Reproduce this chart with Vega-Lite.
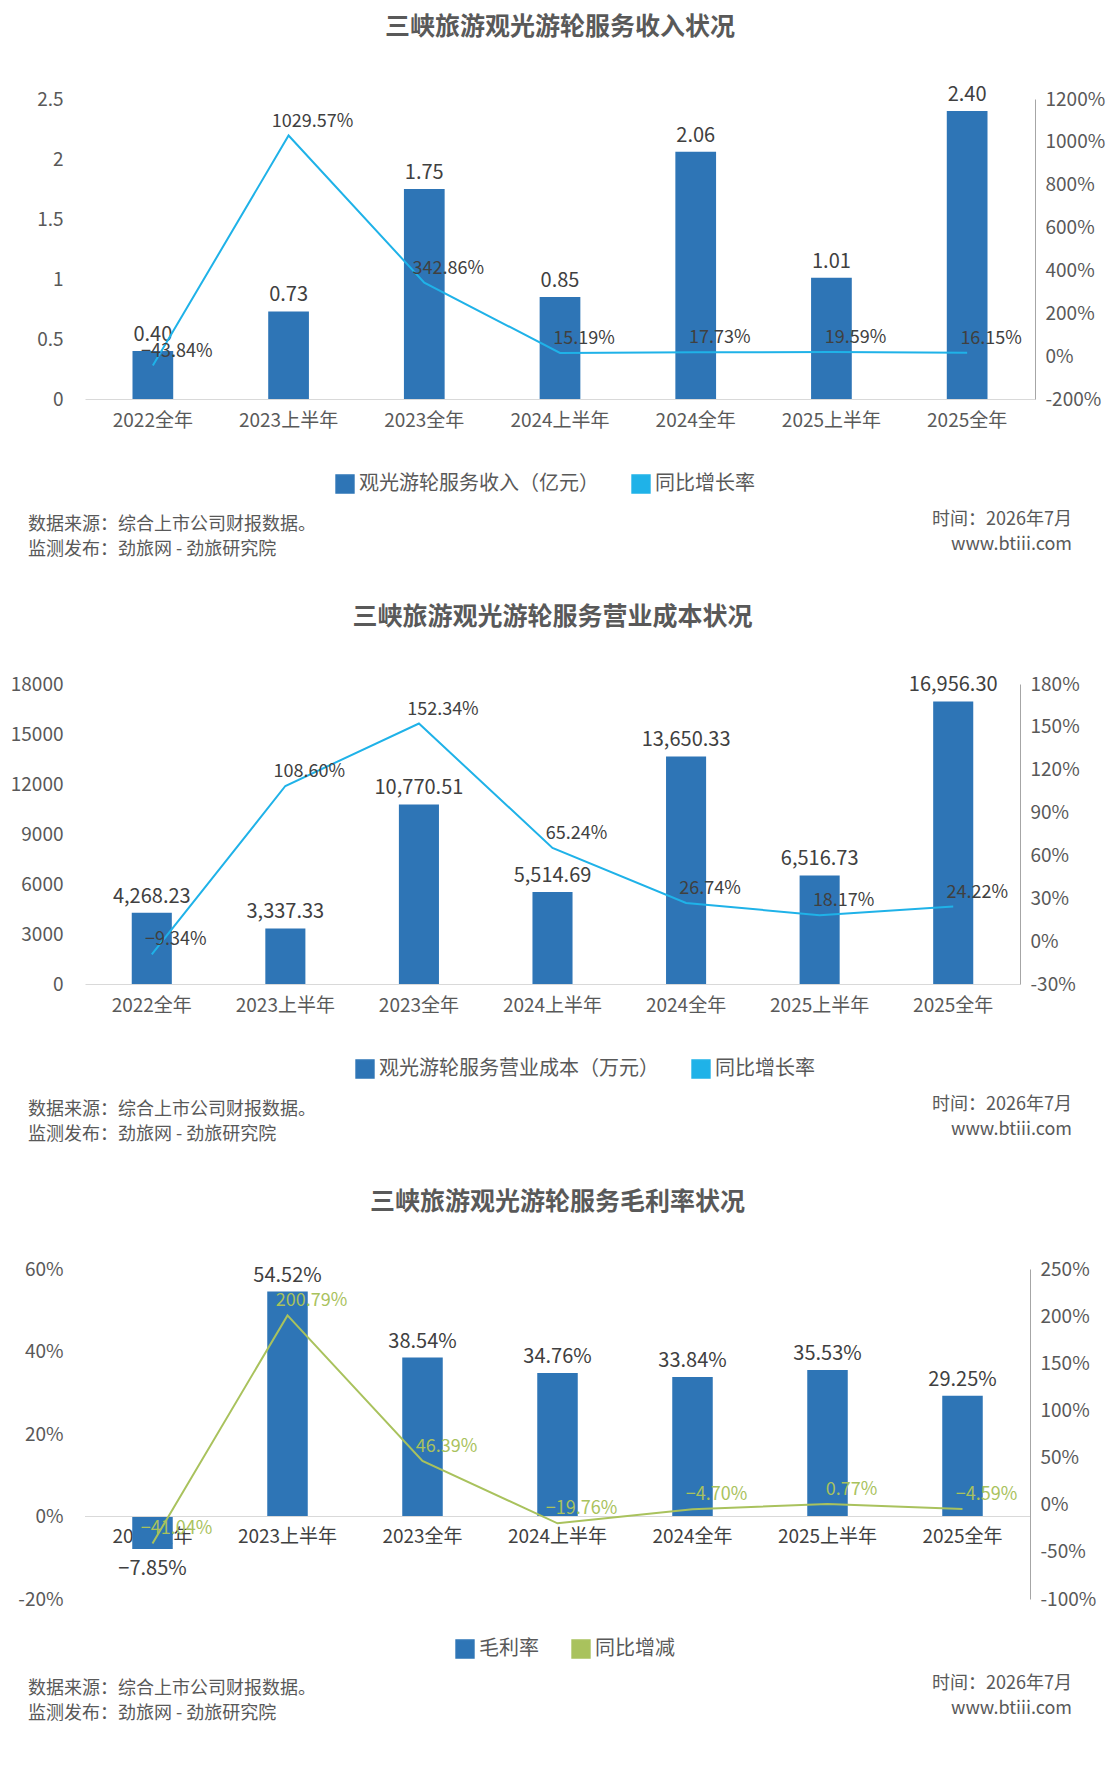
{
  "$schema": "https://vega.github.io/schema/vega-lite/v6.json",
  "background": "white",
  "padding": {"left": 10, "top": 15, "right": 10, "bottom": 5},
  "config": {
    "font": "Noto Sans CJK SC",
    "view": {"stroke": null},
    "axis": {"labelFont": "Noto Sans CJK SC", "labelColor": "#595959", "labelFontSize": 19, "ticks": false, "grid": false, "title": null},
    "legend": {"labelFont": "Noto Sans CJK SC", "labelFontSize": 20, "labelColor": "#595959", "orient": "none", "direction": "horizontal", "title": null, "symbolSize": 320, "columnPadding": 30, "labelLimit": 0},
    "title": {"font": "Noto Sans CJK SC", "fontSize": 25, "fontWeight": "bold", "color": "#595959", "offset": 45},
    "concat": {"spacing": 45}
  },
  "datasets": {
    "p1": [
      {"c": "2022全年", "v": 0.40, "g": -43.84},
      {"c": "2023上半年", "v": 0.73, "g": 1029.57},
      {"c": "2023全年", "v": 1.75, "g": 342.86},
      {"c": "2024上半年", "v": 0.85, "g": 15.19},
      {"c": "2024全年", "v": 2.06, "g": 17.73},
      {"c": "2025上半年", "v": 1.01, "g": 19.59},
      {"c": "2025全年", "v": 2.40, "g": 16.15}
    ],
    "p2": [
      {"c": "2022全年", "v": 4268.23, "g": -9.34},
      {"c": "2023上半年", "v": 3337.33, "g": 108.60},
      {"c": "2023全年", "v": 10770.51, "g": 152.34},
      {"c": "2024上半年", "v": 5514.69, "g": 65.24},
      {"c": "2024全年", "v": 13650.33, "g": 26.74},
      {"c": "2025上半年", "v": 6516.73, "g": 18.17},
      {"c": "2025全年", "v": 16956.30, "g": 24.22}
    ],
    "p3": [
      {"c": "2022全年", "v": -7.85, "g": -41.04},
      {"c": "2023上半年", "v": 54.52, "g": 200.79},
      {"c": "2023全年", "v": 38.54, "g": 46.39},
      {"c": "2024上半年", "v": 34.76, "g": -19.76},
      {"c": "2024全年", "v": 33.84, "g": -4.70},
      {"c": "2025上半年", "v": 35.53, "g": 0.77},
      {"c": "2025全年", "v": 29.25, "g": -4.59}
    ],
    "foot": [
      {"x": 0.0, "y": 0.3, "t": "数据来源：综合上市公司财报数据。", "s": "l"},
      {"x": 0.0, "y": 0.8, "t": "监测发布：劲旅网 - 劲旅研究院", "s": "l"},
      {"x": 1.0, "y": 0.2, "t": "时间：2026年7月", "s": "r"},
      {"x": 1.0, "y": 0.7, "t": "www.btiii.com", "s": "r"}
    ]
  },
  "resolve": {"scale": {"color": "independent"}},
  "vconcat": [
    {
      "spacing": 80,
      "vconcat": [
        {
          "title": "三峡旅游观光游轮服务收入状况",
          "width": 950, "height": 300,
          "data": {"name": "p1"},
          "transform": [{"calculate": "format(datum.g, '.2f') + '%'", "as": "gl"}],
          "encoding": {"x": {"field": "c", "type": "nominal", "sort": null, "axis": {"labelAngle": 0, "domainColor": "#d9d9d9", "labelPadding": 12}, "scale": {"paddingInner": 0.7, "paddingOuter": 0.35}}},
          "layer": [
            {
              "encoding": {"y": {"field": "v", "type": "quantitative", "scale": {"domain": [0, 2.5]}, "axis": {"values": [0, 0.5, 1, 1.5, 2, 2.5], "format": "~g", "domain": false, "labelPadding": 22}}},
              "layer": [
                {"mark": {"type": "bar", "color": "#2e75b6"}, "encoding": {"color": {"datum": "观光游轮服务收入（亿元）", "scale": {"domain": ["观光游轮服务收入（亿元）", "同比增长率"], "range": ["#2e75b6", "#1fb2e8"]}, "legend": {"legendX": 250, "legendY": 375}}}},
                {"mark": {"type": "text", "dy": -16, "fontSize": 20, "color": "#404040"}, "encoding": {"text": {"field": "v", "format": ".2f"}}}
              ]
            },
            {
              "encoding": {"y": {"field": "g", "type": "quantitative", "scale": {"domain": [-200, 1200]}, "axis": {"orient": "right", "values": [-200, 0, 200, 400, 600, 800, 1000, 1200], "labelExpr": "datum.value + '%'", "domainColor": "#a6a6a6", "labelPadding": 10}}},
              "layer": [
                {"mark": {"type": "line", "color": "#1fb2e8", "strokeWidth": 2}, "encoding": {"color": {"datum": "同比增长率", "scale": {"domain": ["观光游轮服务收入（亿元）", "同比增长率"], "range": ["#2e75b6", "#1fb2e8"]}}}},
                {"mark": {"type": "text", "dx": 24, "dy": -14, "fontSize": 18, "color": "#404040"}, "encoding": {"text": {"field": "gl"}}}
              ]
            }
          ],
          "resolve": {"scale": {"y": "independent"}}
        },
        {
          "width": 990, "height": 50,
          "data": {"name": "foot"},
          "encoding": {
            "x": {"field": "x", "type": "quantitative", "scale": {"domain": [0, 1], "range": [-57, 987]}, "axis": null},
            "y": {"field": "y", "type": "quantitative", "scale": {"domain": [0, 1], "reverse": true}, "axis": null},
            "text": {"field": "t"}
          },
          "layer": [
            {"transform": [{"filter": "datum.s == 'l'"}], "mark": {"type": "text", "align": "left", "fontSize": 18, "color": "#595959"}},
            {"transform": [{"filter": "datum.s == 'r'"}], "mark": {"type": "text", "align": "right", "fontSize": 18, "color": "#595959"}}
          ]
        }
      ]
    },
    {
      "spacing": 80,
      "vconcat": [
        {
          "title": "三峡旅游观光游轮服务营业成本状况",
          "width": 935, "height": 300,
          "data": {"name": "p2"},
          "transform": [{"calculate": "format(datum.g, '.2f') + '%'", "as": "gl"}],
          "encoding": {"x": {"field": "c", "type": "nominal", "sort": null, "axis": {"labelAngle": 0, "domainColor": "#d9d9d9", "labelPadding": 12}, "scale": {"paddingInner": 0.7, "paddingOuter": 0.35}}},
          "layer": [
            {
              "encoding": {"y": {"field": "v", "type": "quantitative", "scale": {"domain": [0, 18000]}, "axis": {"values": [0, 3000, 6000, 9000, 12000, 15000, 18000], "format": "d", "domain": false, "labelPadding": 22}}},
              "layer": [
                {"mark": {"type": "bar", "color": "#2e75b6"}, "encoding": {"color": {"datum": "观光游轮服务营业成本（万元）", "scale": {"domain": ["观光游轮服务营业成本（万元）", "同比增长率"], "range": ["#2e75b6", "#1fb2e8"]}, "legend": {"legendX": 270, "legendY": 375}}}},
                {"mark": {"type": "text", "dy": -16, "fontSize": 20, "color": "#404040"}, "encoding": {"text": {"field": "v", "format": ",.2f"}}}
              ]
            },
            {
              "encoding": {"y": {"field": "g", "type": "quantitative", "scale": {"domain": [-30, 180]}, "axis": {"orient": "right", "values": [-30, 0, 30, 60, 90, 120, 150, 180], "labelExpr": "datum.value + '%'", "domainColor": "#a6a6a6", "labelPadding": 10}}},
              "layer": [
                {"mark": {"type": "line", "color": "#1fb2e8", "strokeWidth": 2}, "encoding": {"color": {"datum": "同比增长率", "scale": {"domain": ["观光游轮服务营业成本（万元）", "同比增长率"], "range": ["#2e75b6", "#1fb2e8"]}}}},
                {"mark": {"type": "text", "dx": 24, "dy": -14, "fontSize": 18, "color": "#404040"}, "encoding": {"text": {"field": "gl"}}}
              ]
            }
          ],
          "resolve": {"scale": {"y": "independent"}}
        },
        {
          "width": 990, "height": 50,
          "data": {"name": "foot"},
          "encoding": {
            "x": {"field": "x", "type": "quantitative", "scale": {"domain": [0, 1], "range": [-57, 987]}, "axis": null},
            "y": {"field": "y", "type": "quantitative", "scale": {"domain": [0, 1], "reverse": true}, "axis": null},
            "text": {"field": "t"}
          },
          "layer": [
            {"transform": [{"filter": "datum.s == 'l'"}], "mark": {"type": "text", "align": "left", "fontSize": 18, "color": "#595959"}},
            {"transform": [{"filter": "datum.s == 'r'"}], "mark": {"type": "text", "align": "right", "fontSize": 18, "color": "#595959"}}
          ]
        }
      ]
    },
    {
      "spacing": 65,
      "vconcat": [
        {
          "title": "三峡旅游观光游轮服务毛利率状况",
          "width": 945, "height": 330,
          "data": {"name": "p3"},
          "transform": [
            {"calculate": "format(datum.g, '.2f') + '%'", "as": "gl"},
            {"calculate": "format(datum.v, '.2f') + '%'", "as": "vl"}
          ],
          "encoding": {"x": {"field": "c", "type": "nominal", "sort": null, "axis": {"labelAngle": 0, "domain": false, "labelPadding": -72, "labelColor": "#404040"}, "scale": {"paddingInner": 0.7, "paddingOuter": 0.35}}},
          "layer": [
            {
              "encoding": {"y": {"field": "v", "type": "quantitative", "scale": {"domain": [-20, 60]}, "axis": {"values": [-20, 0, 20, 40, 60], "labelExpr": "datum.value + '%'", "domain": false, "labelPadding": 22}}},
              "layer": [
                {"mark": {"type": "bar", "color": "#2e75b6"}, "encoding": {"color": {"datum": "毛利率", "scale": {"domain": ["毛利率", "同比增减"], "range": ["#2e75b6", "#a9c25d"]}, "legend": {"legendX": 370, "legendY": 370}}}},
                {"mark": {"type": "rule", "color": "#d9d9d9"}, "encoding": {"y": {"datum": 0}, "x": null}},
                {"transform": [{"filter": "datum.v >= 0"}], "mark": {"type": "text", "dy": -16, "fontSize": 20, "color": "#404040"}, "encoding": {"text": {"field": "vl"}}},
                {"transform": [{"filter": "datum.v < 0"}], "mark": {"type": "text", "dy": 20, "fontSize": 20, "color": "#404040"}, "encoding": {"text": {"field": "vl"}}}
              ]
            },
            {
              "encoding": {"y": {"field": "g", "type": "quantitative", "scale": {"domain": [-100, 250]}, "axis": {"orient": "right", "values": [-100, -50, 0, 50, 100, 150, 200, 250], "labelExpr": "datum.value + '%'", "domainColor": "#a6a6a6", "labelPadding": 10}}},
              "layer": [
                {"mark": {"type": "line", "color": "#a9c25d", "strokeWidth": 2}, "encoding": {"color": {"datum": "同比增减", "scale": {"domain": ["毛利率", "同比增减"], "range": ["#2e75b6", "#a9c25d"]}}}},
                {"mark": {"type": "text", "dx": 24, "dy": -14, "fontSize": 18, "color": "#a9c25d"}, "encoding": {"text": {"field": "gl"}}}
              ]
            }
          ],
          "resolve": {"scale": {"y": "independent"}}
        },
        {
          "width": 990, "height": 50,
          "data": {"name": "foot"},
          "encoding": {
            "x": {"field": "x", "type": "quantitative", "scale": {"domain": [0, 1], "range": [-57, 987]}, "axis": null},
            "y": {"field": "y", "type": "quantitative", "scale": {"domain": [0, 1], "reverse": true}, "axis": null},
            "text": {"field": "t"}
          },
          "layer": [
            {"transform": [{"filter": "datum.s == 'l'"}], "mark": {"type": "text", "align": "left", "fontSize": 18, "color": "#595959"}},
            {"transform": [{"filter": "datum.s == 'r'"}], "mark": {"type": "text", "align": "right", "fontSize": 18, "color": "#595959"}}
          ]
        }
      ]
    }
  ]
}
